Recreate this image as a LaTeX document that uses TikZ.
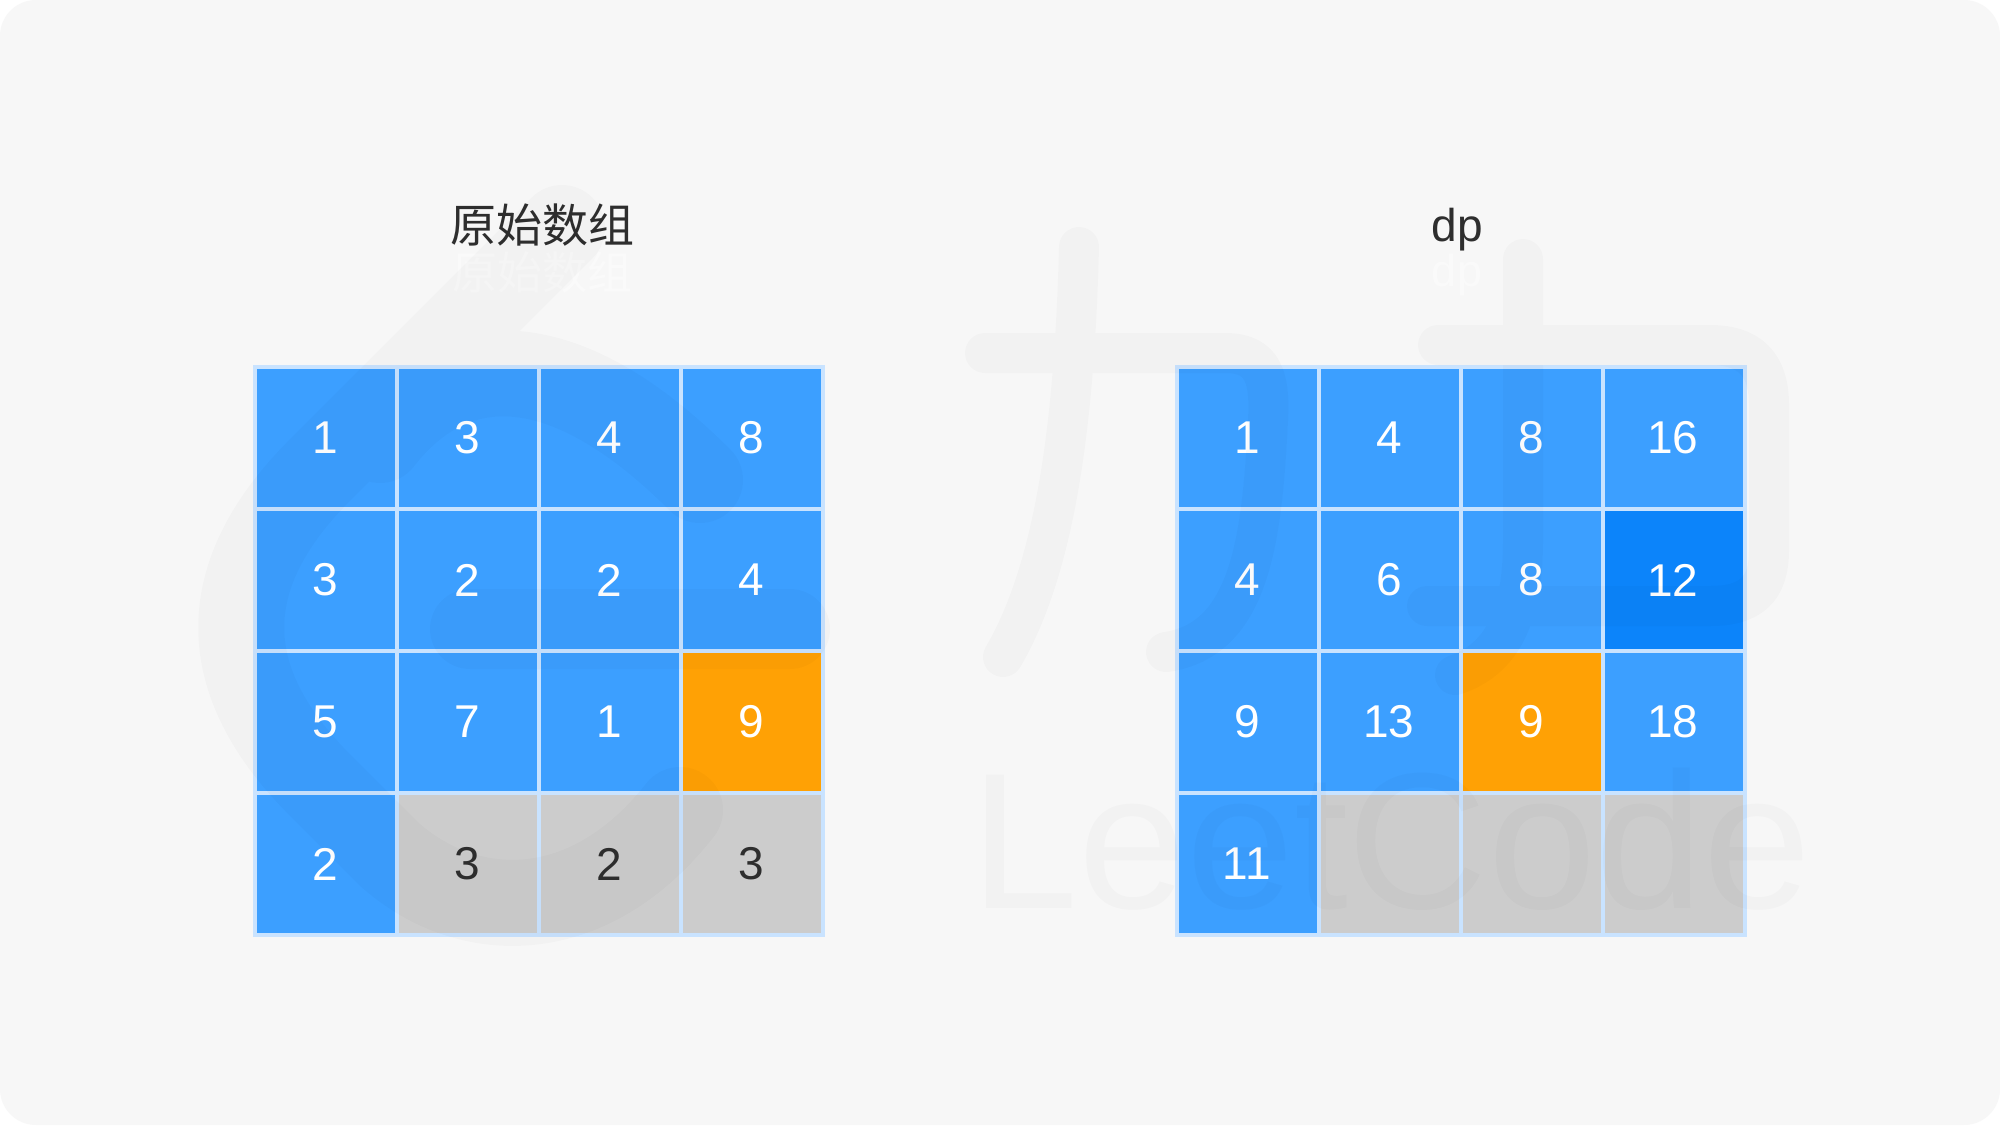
\documentclass[tikz,border=0pt]{standalone}
\usepackage{fontspec}
\setmainfont{Liberation Sans}
\newfontfamily\cjk{Noto Sans CJK SC}
\definecolor{paper}{HTML}{F7F7F7}
\definecolor{gridline}{HTML}{C9E3FF}
\definecolor{cellblue}{HTML}{3C9FFF}
\definecolor{deepblue}{HTML}{0C84FA}
\definecolor{cellorange}{HTML}{FFA105}
\definecolor{cellgrey}{HTML}{CCCCCC}
\definecolor{inkdark}{HTML}{2E2E2E}
\tikzset{
  cell/.style={draw=gridline,line width=1.7pt,fill=cellblue,text=white,minimum size=71pt,inner sep=0pt,outer sep=0pt,
    font=\fontsize{23}{27}\selectfont,execute at end node={\kern1.2pt}},
  donecell/.style={cell,fill=deepblue},
  hotcell/.style={cell,fill=cellorange},
  dimcell/.style={cell,fill=cellgrey,text=inkdark},
  headline/.style={text=inkdark,inner sep=0pt,font=\fontsize{23}{27}\selectfont},
  ghostline/.style={text=white,text opacity=.4,inner sep=0pt,font=\fontsize{22.5}{27}\selectfont},
  brush/.style={line width=#1,line cap=round,line join=round}
}
\begin{document}
\begin{tikzpicture}[x=.5pt,y=-.5pt]
  \useasboundingbox (0,0) rectangle (2000,1125);
  \fill [white] (0,0) rectangle (2000,1125);
  \fill [paper,rounded corners=18pt] (0,0) rectangle (2000,1125);
  % titles
  \node [headline] (lefttitle) at (542,225) {\cjk 原始数组};
  \node [ghostline] (leftghost) at (542,272) {\cjk 原始数组};
  \node [headline,anchor=base] (righttitle) at (1457,241) {dp};
  \node [ghostline,anchor=base] (rightghost) at (1457,286) {dp};
  % left grid
  \node [cell] (a11) at (326,438) {1};
  \node [cell] (a12) at (468,438) {3};
  \node [cell] (a13) at (610,438) {4};
  \node [cell] (a14) at (752,438) {8};
  \node [cell] (a21) at (326,580) {3};
  \node [cell] (a22) at (468,580) {2};
  \node [cell] (a23) at (610,580) {2};
  \node [cell] (a24) at (752,580) {4};
  \node [cell] (a31) at (326,722) {5};
  \node [cell] (a32) at (468,722) {7};
  \node [cell] (a33) at (610,722) {1};
  \node [hotcell] (a34) at (752,722) {9};
  \node [cell] (a41) at (326,864) {2};
  \node [dimcell] (a42) at (468,864) {3};
  \node [dimcell] (a43) at (610,864) {2};
  \node [dimcell] (a44) at (752,864) {3};
  % right grid
  \node [cell] (b11) at (1248,438) {1};
  \node [cell] (b12) at (1390,438) {4};
  \node [cell] (b13) at (1532,438) {8};
  \node [cell] (b14) at (1674,438) {16};
  \node [cell] (b21) at (1248,580) {4};
  \node [cell] (b22) at (1390,580) {6};
  \node [cell] (b23) at (1532,580) {8};
  \node [donecell] (b24) at (1674,580) {12};
  \node [cell] (b31) at (1248,722) {9};
  \node [cell] (b32) at (1390,722) {13};
  \node [hotcell] (b33) at (1532,722) {9};
  \node [cell] (b34) at (1674,722) {18};
  \node [cell] (b41) at (1248,864) {11};
  \node [dimcell] (b42) at (1390,864) {};
  \node [dimcell] (b43) at (1532,864) {};
  \node [dimcell] (b44) at (1674,864) {};
  % watermark
  \begin{scope}[transparency group,opacity=.02]
    \draw [brush=43pt] (562,228) -- (320,470) .. controls (215,575) and (215,680) .. (320,785) -- (390,855) .. controls (470,925) and (590,925) .. (680,810);
    \draw [brush=43pt] (380,440) .. controls (450,350) and (560,340) .. (700,480);
    \draw [brush=40pt] (470,629) -- (790,629);
    \draw [brush=20pt] (985,353) -- (1225,353) .. controls (1265,353) and (1270,380) .. (1268,420) .. controls (1262,540) and (1250,640) .. (1166,652);
    \draw [brush=20pt] (1079,247) .. controls (1075,400) and (1060,560) .. (1003,657);
    \draw [brush=20pt] (1438,345) -- (1710,345) .. controls (1750,345) and (1769,365) .. (1769,405) -- (1769,550) .. controls (1769,590) and (1750,606) .. (1710,606) -- (1427,606);
    \draw [brush=20pt] (1523,259) -- (1523,540) .. controls (1523,620) and (1500,660) .. (1455,675);
    \node [inner sep=0pt,anchor=base west,font=\fontsize{97}{102}\selectfont] (wordmark) at (970,908) {LeetCode};
  \end{scope}
\end{tikzpicture}
\end{document}
